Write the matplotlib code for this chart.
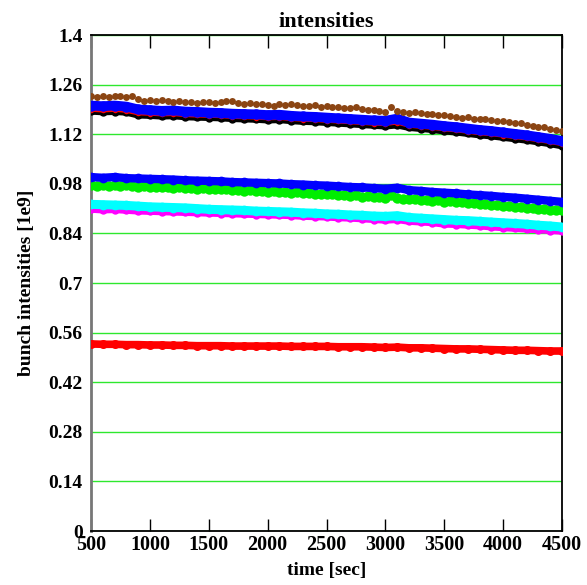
import numpy as np
import matplotlib
matplotlib.use("Agg")
import matplotlib.pyplot as plt

plt.rcParams['font.family'] = ['Liberation Serif', 'DejaVu Serif']
plt.rcParams['font.weight'] = 'bold'

# sampling times [sec]
t_fine = np.arange(500, 4501, 50)     # 81 samples
t_coarse = np.arange(500, 4501, 100)  # 41 samples

brown = [1.228, 1.226, 1.229, 1.225, 1.227, 1.229, 1.225, 1.227, 1.218, 1.215,
         1.216, 1.213, 1.217, 1.214, 1.211, 1.213, 1.210, 1.212, 1.209, 1.210,
         1.212, 1.208, 1.210, 1.213, 1.215, 1.208, 1.206, 1.209, 1.204, 1.206,
         1.203, 1.201, 1.204, 1.202, 1.205, 1.203, 1.201, 1.200, 1.202, 1.198,
         1.200, 1.197, 1.198, 1.195, 1.193, 1.196, 1.191, 1.189, 1.187, 1.185,
         1.184, 1.196, 1.186, 1.183, 1.181, 1.182, 1.179, 1.177, 1.178, 1.174,
         1.175, 1.171, 1.169, 1.167, 1.168, 1.164, 1.162, 1.163, 1.159, 1.157,
         1.158, 1.154, 1.151, 1.152, 1.147, 1.144, 1.141, 1.139, 1.136, 1.132,
         1.128]

green = [0.978, 0.975, 0.977, 0.974, 0.976, 0.975, 0.977, 0.973, 0.972, 0.974,
         0.971, 0.972, 0.970, 0.971, 0.969, 0.970, 0.968, 0.969, 0.966, 0.967,
         0.965, 0.966, 0.964, 0.965, 0.962, 0.963, 0.961, 0.962, 0.959, 0.960,
         0.958, 0.959, 0.956, 0.957, 0.955, 0.956, 0.953, 0.954, 0.951, 0.952,
         0.950, 0.951, 0.948, 0.949, 0.946, 0.947, 0.944, 0.945, 0.942, 0.943,
         0.941, 0.948, 0.939, 0.938, 0.936, 0.937, 0.934, 0.935, 0.932, 0.933,
         0.930, 0.931, 0.928, 0.929, 0.926, 0.925, 0.924, 0.922, 0.921, 0.920,
         0.918, 0.917, 0.915, 0.914, 0.913, 0.911, 0.910, 0.909, 0.907, 0.906,
         0.905]

blue_high = [1.201, 1.199, 1.201, 1.198, 1.190, 1.188, 1.186, 1.187, 1.184, 1.183,
             1.181, 1.180, 1.178, 1.177, 1.176, 1.174, 1.175, 1.172, 1.170, 1.169,
             1.167, 1.165, 1.163, 1.161, 1.159, 1.158, 1.164, 1.153, 1.150, 1.147,
             1.143, 1.140, 1.136, 1.132, 1.129, 1.125, 1.121, 1.117, 1.112, 1.107,
             1.101]

black = [1.185, 1.183, 1.184, 1.182, 1.174, 1.173, 1.171, 1.172, 1.169, 1.168,
         1.167, 1.166, 1.164, 1.163, 1.162, 1.160, 1.161, 1.158, 1.156, 1.155,
         1.153, 1.151, 1.149, 1.147, 1.145, 1.143, 1.146, 1.139, 1.136, 1.133,
         1.129, 1.126, 1.122, 1.118, 1.115, 1.111, 1.107, 1.103, 1.098, 1.093,
         1.087]

red_high = [1.189, 1.187, 1.189, 1.186, 1.179, 1.178, 1.176, 1.177, 1.174, 1.173,
            1.172, 1.171, 1.169, 1.168, 1.167, 1.165, 1.166, 1.163, 1.161, 1.160,
            1.158, 1.156, 1.154, 1.152, 1.150, 1.149, 1.153, 1.144, 1.141, 1.138,
            1.134, 1.131, 1.127, 1.123, 1.120, 1.116, 1.112, 1.108, 1.103, 1.098,
            1.092]

blue_low = [0.999, 0.997, 0.999, 0.996, 0.995, 0.994, 0.993, 0.992, 0.990, 0.989,
            0.988, 0.987, 0.985, 0.984, 0.983, 0.982, 0.981, 0.979, 0.978, 0.976,
            0.975, 0.973, 0.971, 0.970, 0.968, 0.966, 0.969, 0.962, 0.960, 0.957,
            0.955, 0.953, 0.950, 0.948, 0.946, 0.943, 0.941, 0.938, 0.935, 0.932,
            0.929]

cyan = [0.922, 0.921, 0.920, 0.919, 0.917, 0.915, 0.914, 0.913, 0.912, 0.910,
        0.908, 0.907, 0.906, 0.905, 0.903, 0.902, 0.901, 0.900, 0.898, 0.897,
        0.895, 0.894, 0.892, 0.891, 0.889, 0.888, 0.890, 0.885, 0.883, 0.881,
        0.879, 0.877, 0.876, 0.874, 0.872, 0.870, 0.868, 0.866, 0.863, 0.861,
        0.858]

magenta = [0.908, 0.906, 0.907, 0.905, 0.903, 0.902, 0.901, 0.900, 0.899, 0.898,
           0.897, 0.896, 0.895, 0.894, 0.893, 0.892, 0.891, 0.890, 0.888, 0.887,
           0.886, 0.884, 0.883, 0.881, 0.879, 0.877, 0.879, 0.874, 0.872, 0.870,
           0.866, 0.865, 0.863, 0.861, 0.858, 0.856, 0.854, 0.852, 0.850, 0.848,
           0.846]

red_low = [0.528, 0.527, 0.527, 0.526, 0.526, 0.525, 0.525, 0.524, 0.524, 0.523,
           0.523, 0.523, 0.522, 0.522, 0.522, 0.522, 0.522, 0.521, 0.521, 0.521,
           0.521, 0.520, 0.520, 0.520, 0.519, 0.518, 0.519, 0.517, 0.517, 0.516,
           0.515, 0.514, 0.514, 0.513, 0.512, 0.511, 0.510, 0.510, 0.509, 0.508,
           0.508]

x_ticks = [500, 1000, 1500, 2000, 2500, 3000, 3500, 4000, 4500]
y_ticks = [0, 0.14, 0.28, 0.42, 0.56, 0.7, 0.84, 0.98, 1.12, 1.26, 1.4]
y_tick_labels = ['0', '0.14', '0.28', '0.42', '0.56', '0.7', '0.84', '0.98',
                 '1.12', '1.26', '1.4']

fig = plt.figure(figsize=(5.87, 5.85), dpi=100)
ax = fig.add_axes([91 / 587, 1 - 531 / 585, (562 - 91) / 587, (531 - 35) / 585])

ax.set_xlim(500, 4500)
ax.set_ylim(0, 1.4)

# horizontal green grid
ax.set_yticks(y_ticks)
ax.set_yticklabels(y_tick_labels)
ax.yaxis.grid(True, color='#2ee82e', linewidth=1.0, zorder=0)
ax.set_axisbelow(True)


def band(t, v, color, lw, ms, z):
    ax.plot(t, v, '-', color=color, linewidth=lw, solid_capstyle='round', zorder=z)
    ax.plot(t, v, 'o', color=color, markersize=ms, markeredgewidth=0, zorder=z)


band(t_coarse, red_low, '#ff0000', 5.5, 6.5, 3)
band(t_coarse, black, '#000000', 5, 6, 3)
band(t_coarse, red_high, '#ff0000', 3, 4, 4)
band(t_coarse, blue_high, '#0000ff', 7, 7.5, 5)
ax.plot(t_fine, green, 'o', color='#00ee00', markersize=7.5, markeredgewidth=0, zorder=4)
band(t_coarse, blue_low, '#0000ff', 6, 7, 5)
band(t_coarse, magenta, '#ff00ff', 5, 6, 4)
band(t_coarse, cyan, '#00ffff', 6.5, 7, 5)
ax.plot(t_fine, brown, 'o', color='#8b4513', markersize=5, markeredgewidth=0, zorder=6)

ax.set_xticks(x_ticks)
ax.tick_params(axis='x', direction='in', length=9, width=1, top=True, bottom=True,
               labelsize=14.5, pad=3)
ax.tick_params(axis='y', length=0, labelsize=14, pad=6)
for lab in ax.get_xticklabels() + ax.get_yticklabels():
    lab.set_fontweight('bold')

for side in ['top', 'right', 'bottom']:
    ax.spines[side].set_color('black')
    ax.spines[side].set_linewidth(1.3)
ax.spines['left'].set_color('#777777')
ax.spines['left'].set_linewidth(2)

ax.set_title('intensities', fontsize=16, fontweight='bold', pad=6)
ax.set_xlabel('time [sec]', fontsize=14, fontweight='bold', labelpad=5)
ax.set_ylabel('bunch intensities [1e9]', fontsize=14, fontweight='bold', labelpad=10)

fig.savefig('out.png', dpi=100)
